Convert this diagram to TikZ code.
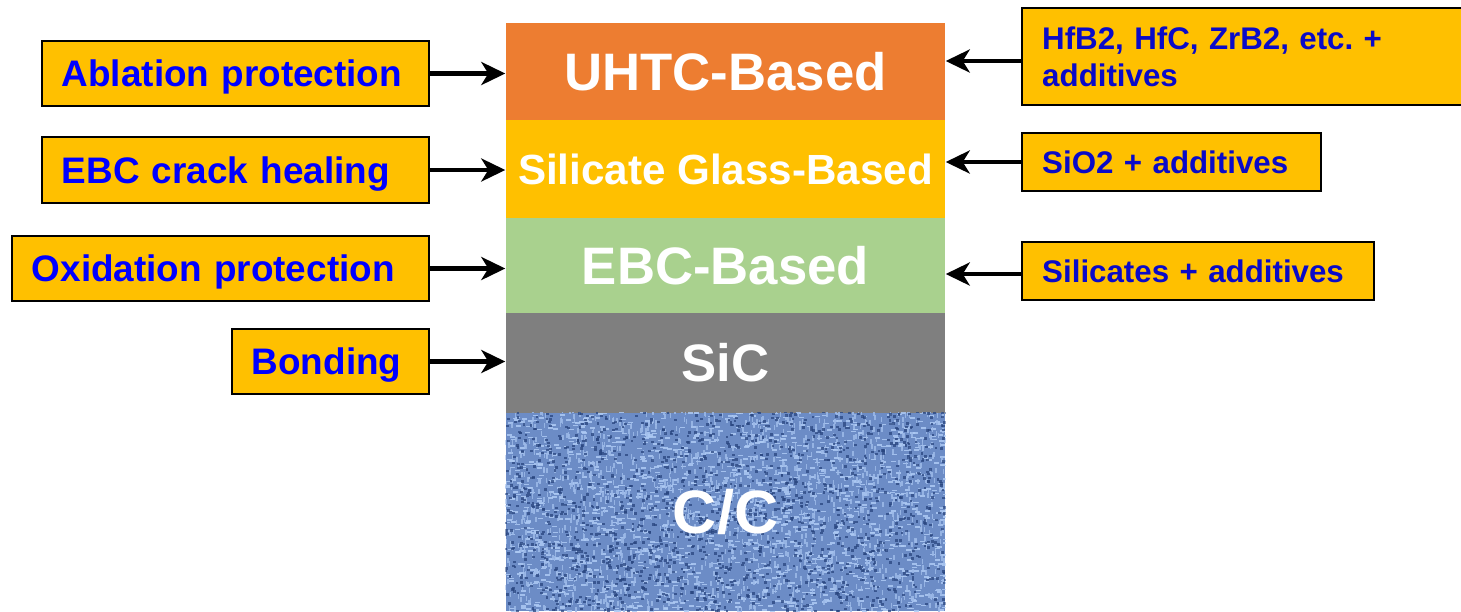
\documentclass[tikz,border=0pt]{standalone}
\usepackage{fontspec}
\setmainfont{Liberation Sans}
\usetikzlibrary{arrows.meta, positioning, calc}
\usepackage{xcolor}
\definecolor{uhtc}{HTML}{ED7D31}
\definecolor{glass}{HTML}{FFC000}
\definecolor{ebc}{HTML}{A9D18E}
\definecolor{sic}{HTML}{7F7F7F}
\definecolor{ccbase}{HTML}{6C8CC6}
\definecolor{cclight}{HTML}{ADCAF4}
\definecolor{ccdark}{HTML}{28457F}
\definecolor{tagfill}{HTML}{FFC000}
\definecolor{tagtext}{HTML}{0000FF}
\definecolor{notetext}{HTML}{0A0AC8}

\begin{document}
\begin{tikzpicture}[
    layer/.style={rectangle, minimum width=4.39cm, inner sep=0pt, text=white, font=\bfseries\fontsize{15}{18}\selectfont},
    tagbox/.style={draw=black, line width=0.7pt, fill=tagfill, inner xsep=0.2cm, inner ysep=0pt, align=left},
    tag/.style={tagbox, text depth=0pt, text=tagtext, font=\bfseries\fontsize{10.5}{12.6}\selectfont},
    note/.style={tagbox, text=notetext, font=\bfseries\fontsize{8.9}{10.6}\selectfont},
    arr/.style={line width=1.4pt, -{Stealth[length=0.24cm, width=0.23cm, inset=0.07cm]}}
  ]
    \useasboundingbox (0,0) rectangle (14.61,-6.11);

    \node[layer, fill=uhtc, minimum height=0.97cm] (uhtc) at (7.255,-0.715) {UHTC-Based};
    \node[layer, fill=glass, minimum height=0.98cm, font=\bfseries\fontsize{12}{14}\selectfont] (glass) at (7.255,-1.69) {Silicate Glass-Based};
    \node[layer, fill=ebc, minimum height=0.95cm] (ebc) at (7.255,-2.655) {EBC-Based};
    \node[layer, fill=sic, minimum height=1.0cm] (sic) at (7.255,-3.63) {SiC};
    \node[layer, fill=ccbase, minimum height=1.98cm] (cc) at (7.255,-5.12) {};

    \begin{scope}
      \clip (cc.south west) rectangle (cc.north east);
      \pgfmathsetseed{42}
      \foreach \i in {1,...,1500} {
        \pgfmathsetmacro{\wx}{5.04+4.43*rnd}
        \pgfmathsetmacro{\wy}{-4.11-2.02*rnd}
        \fill[cclight, opacity=0.85] (\wx,\wy) rectangle ++(0.05,0.016);
      }
      \foreach \i in {1,...,1500} {
        \pgfmathsetmacro{\wx}{5.04+4.43*rnd}
        \pgfmathsetmacro{\wy}{-4.11-2.02*rnd}
        \fill[cclight!75!ccbase, opacity=0.85] (\wx,\wy) rectangle ++(0.016,0.05);
      }
      \foreach \i in {1,...,1600} {
        \pgfmathsetmacro{\wx}{5.04+4.43*rnd}
        \pgfmathsetmacro{\wy}{-4.11-2.02*rnd}
        \fill[ccdark, opacity=0.75] (\wx,\wy) rectangle ++(0.028,0.024);
      }
    \end{scope}
    \node[layer, font=\bfseries\fontsize{17.4}{20}\selectfont] at (cc) {C/C};

    \node[tag, anchor=east, text width=3.47cm, minimum height=0.65cm] (abl) at (4.30,-0.735) {Ablation protection};
    \node[tag, anchor=east, text width=3.47cm, minimum height=0.66cm] (crack) at (4.30,-1.70) {EBC crack healing};
    \node[tag, anchor=east, text width=3.77cm, minimum height=0.65cm] (oxi) at (4.30,-2.685) {Oxidation protection};
    \node[tag, anchor=east, text width=1.57cm, minimum height=0.65cm] (bond) at (4.30,-3.615) {Bonding};

    \node[note, anchor=west, text width=4.14cm, minimum height=0.97cm] (hfb) at (10.21,-0.565) {HfB2, HfC, ZrB2, etc.\ +\\additives};
    \node[note, anchor=west, text width=2.59cm, minimum height=0.58cm] (sio) at (10.21,-1.62) {SiO2 + additives};
    \node[note, anchor=west, text width=3.12cm, minimum height=0.58cm] (sil) at (10.21,-2.71) {Silicates + additives};

    \draw[arr] (abl.east) -- (abl.east -| uhtc.west);
    \draw[arr] (crack.east) -- (crack.east -| glass.west);
    \draw[arr] (oxi.east) -- (oxi.east -| ebc.west);
    \draw[arr] (bond.east) -- (bond.east -| sic.west);

    \draw[arr] ([yshift=-0.045cm]hfb.west) -- ([yshift=-0.045cm]hfb.west -| uhtc.east);
    \draw[arr] (sio.west) -- (sio.west -| glass.east);
    \draw[arr] ([yshift=-0.03cm]sil.west) -- ([yshift=-0.03cm]sil.west -| ebc.east);
  \end{tikzpicture}
\end{document}
